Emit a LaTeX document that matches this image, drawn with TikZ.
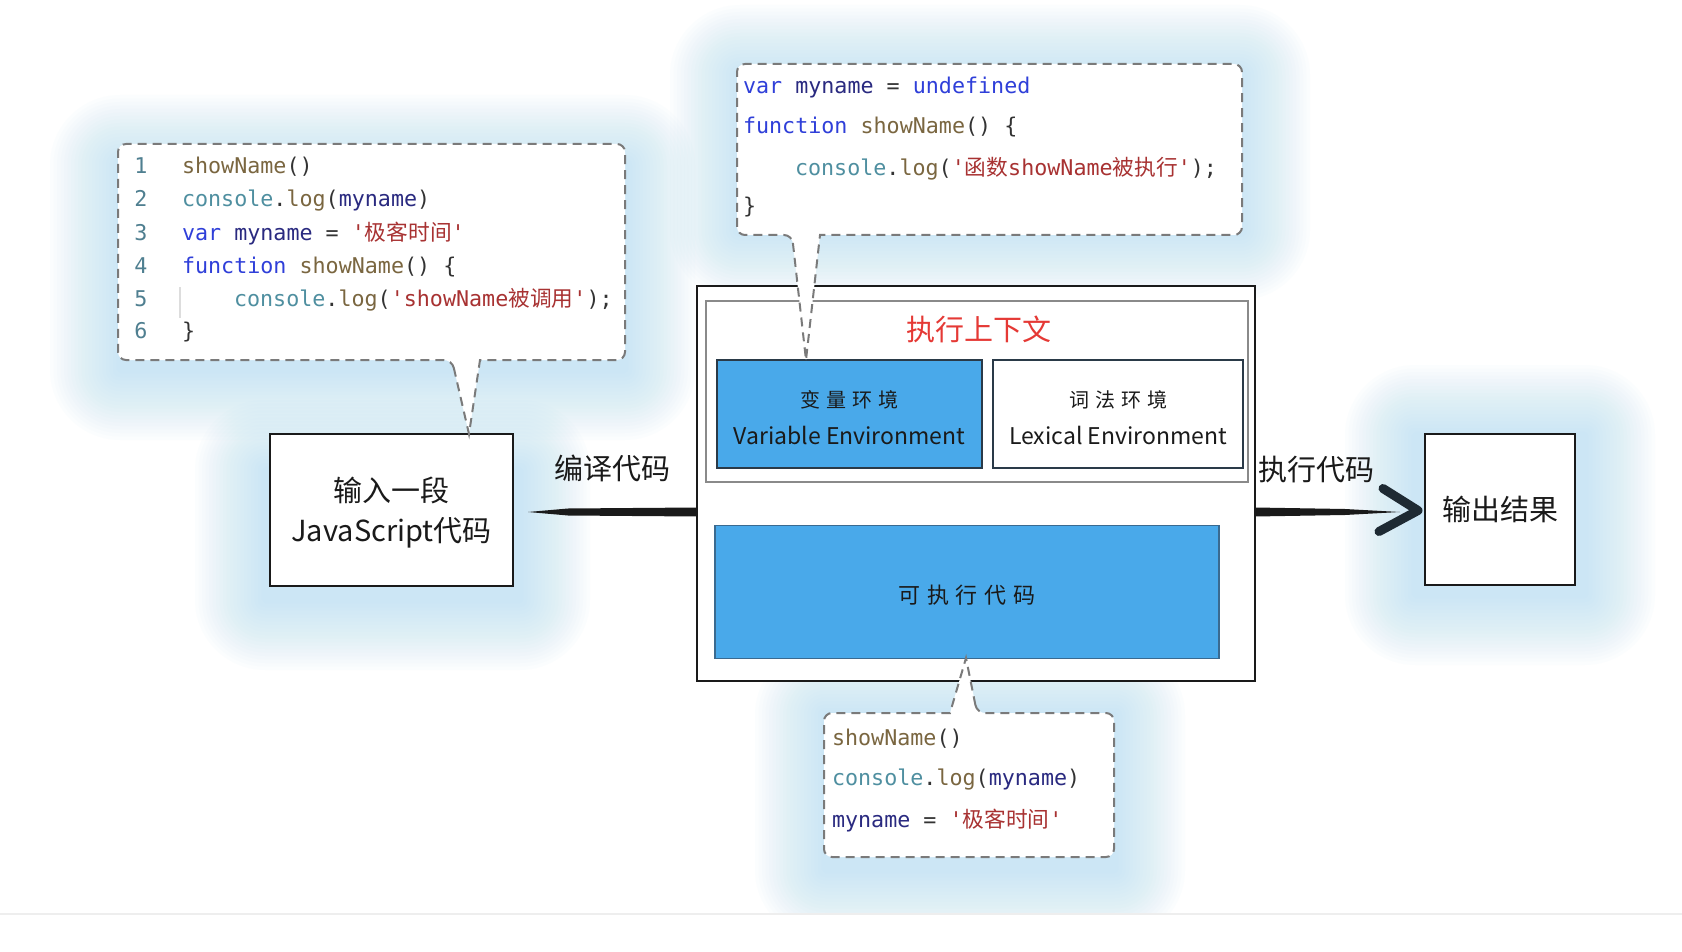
\documentclass[tikz,border=0pt]{standalone}
\usepackage{fontspec}
\setmainfont{Noto Sans CJK SC}
\setmonofont{DejaVu Sans Mono}
\newfontfamily\cjk{Noto Sans CJK SC}
\newfontfamily\cjkls{Noto Sans CJK SC}[LetterSpace=30]
\usetikzlibrary{calc}
\definecolor{kw}{HTML}{2F3FD9}
\definecolor{fnc}{HTML}{7A6640}
\definecolor{objc}{HTML}{4F8FA0}
\definecolor{varc}{HTML}{2A2A80}
\definecolor{strc}{HTML}{A83232}
\definecolor{punc}{HTML}{333333}
\definecolor{lnc}{HTML}{4F7F90}
\definecolor{glowc}{HTML}{A9D9F5}
\definecolor{boxblue}{HTML}{49A9EA}
\definecolor{titlered}{HTML}{E53935}
\definecolor{inkc}{HTML}{1A1A1A}
\definecolor{chev}{HTML}{1E2A33}
\definecolor{bubgray}{HTML}{7A7A7A}
\definecolor{ctxgray}{HTML}{8A8A8A}
\definecolor{envborder}{HTML}{2A3A48}
\definecolor{execborder}{HTML}{3A6A90}
\definecolor{guide}{HTML}{DDDDDD}
\definecolor{lightrule}{HTML}{EEEEEE}
\newcommand\KW[1]{\textcolor{kw}{#1}}
\newcommand\FN[1]{\textcolor{fnc}{#1}}
\newcommand\OB[1]{\textcolor{objc}{#1}}
\newcommand\VR[1]{\textcolor{varc}{#1}}
\newcommand\ST[1]{\textcolor{strc}{#1}}
\newcommand\PU[1]{\textcolor{punc}{#1}}
\newcommand\zh[1]{{\cjk #1}}
\newcommand\glowbox[4]{%
  \foreach \gi in {0,...,19}{%
    \pgfmathsetmacro\glowr{max(6,70-3.5*\gi)}%
    \fill[glowc, opacity=0.036, rounded corners=\glowr pt] ({#1+3.5*\gi},{#2+3.5*\gi}) rectangle ({#3-3.5*\gi},{#4-3.5*\gi});
  }%
}
\begin{document}
\begin{tikzpicture}[x=1pt,y=-1pt,
  every node/.style={inner sep=0pt, outer sep=0pt},
  blk/.style={draw=inkc, line width=2.5pt, fill=white},
  lbl/.style={font=\cjk\fontsize{29}{36}\selectfont, text=inkc, align=center},
  envzh/.style={font=\cjkls\fontsize{20}{26}\selectfont, text=inkc},
  enven/.style={font=\cjk\fontsize{23}{28}\selectfont, text=inkc},
  code/.style={anchor=mid west, font=\ttfamily\fontsize{21.7}{26}\selectfont},
  lno/.style={anchor=mid, text=lnc, font=\ttfamily\fontsize{21.7}{26}\selectfont},
  bubble/.style={draw=bubgray, line width=2pt, dash pattern=on 9pt off 6pt, fill=white},
]
\useasboundingbox (0,0) rectangle (1682,952);
\fill[white] (0,0) rectangle (1682,952);

% soft blue glows
\begin{scope}
  \clip (0,0) rectangle (1682,914);
  \glowbox{50}{95}{695}{440}
  \glowbox{195}{400}{590}{670}
  \glowbox{670}{5}{1310}{300}
  \glowbox{1345}{365}{1655}{665}
  \glowbox{755}{645}{1185}{940}
\end{scope}
\draw[lightrule, line width=1.5pt] (0,914) -- (1682,914);

% main execution box
\node[blk, minimum width=558pt, minimum height=395pt] (main) at (976,483.5) {};
\node[draw=ctxgray, line width=2pt, fill=white, minimum width=542pt, minimum height=181pt] (ctx) at (977,391.5) {};
\node[font=\cjk\fontsize{29}{36}\selectfont, text=titlered] (title) at ($(ctx.center)+(2,-62.5)$) {执行上下文};
\node[draw=envborder, line width=2pt, fill=boxblue, minimum width=265pt, minimum height=108pt] (varenv) at (849.5,414) {};
\node[envzh] (varzh) at ($(varenv.center)+(0,-14)$) {变量环境};
\node[enven] (varen) at ($(varenv.center)+(0,21)$) {Variable Environment};
\node[draw=envborder, line width=2pt, fill=white, minimum width=250pt, minimum height=108pt] (lexenv) at (1118,414) {};
\node[envzh] (lexzh) at ($(lexenv.center)+(0,-14)$) {词法环境};
\node[enven] (lexen) at ($(lexenv.center)+(0,21)$) {Lexical Environment};
\node[draw=execborder, line width=1.5pt, fill=boxblue, minimum width=504pt, minimum height=133pt] (exec) at (967,592) {};
\node[font=\cjkls\fontsize{22}{28}\selectfont, text=inkc] (exectxt) at ($(exec.center)+(0,3)$) {可执行代码};

% input and output boxes
\node[blk, minimum width=243pt, minimum height=152pt] (inbox) at (391.5,510) {};
\node[lbl] (in1) at ($(inbox.center)+(0,-20)$) {输入一段};
\node[lbl] (in2) at ($(inbox.center)+(0,23)$) {JavaScript代码};
\node[blk, minimum width=150pt, minimum height=151pt] (outbox) at (1500,509.5) {};
\node[lbl] (outtxt) at (outbox.center) {输出结果};

% compile arrow
\path (inbox.east) ++(15,2) coordinate (cA);
\path (main.west |- cA) coordinate (cB);
\fill[inkc] (cA) -- ($(cA)+(40,-3.5)$) -- ($(cB)+(0,-4.5)$) -- ($(cB)+(0,4.5)$) -- ($(cA)+(40,3.5)$) -- cycle;
\node[lbl] (compile) at ($(cA)!0.5!(cB)+(0,-44)$) {编译代码};

% execute arrow
\path (main.east |- cA) coordinate (cC);
\path (outbox.west) ++(-7,1) coordinate (tip);
\path (tip) ++(-18,1.5) coordinate (cD);
\fill[inkc] ($(cC)+(0,-4.5)$) -- ($(cC)+(90,-3)$) -- (cD) -- ($(cC)+(90,3)$) -- ($(cC)+(0,4.5)$) -- cycle;
\draw[chev, line width=9pt, line cap=round, line join=round] ($(tip)+(-35,-22)$) -- (tip) -- ($(tip)+(-39,21)$);
\node[lbl, anchor=west] (execlbl) at ($(cC)+(3,-42)$) {执行代码};

% left code bubble
\draw[bubble] (452,360) -- (469,434) -- (480,360) [rounded corners=8pt] -- (625,360) -- (625,144) -- (118,144) -- (118,360) -- cycle;
\draw[guide, line width=1.2pt] (180,287) -- (180,318);
\node[lno] (l1n) at (141,171) {1};
\node[lno] (l2n) at (141,204) {2};
\node[lno] (l3n) at (141,238) {3};
\node[lno] (l4n) at (141,271) {4};
\node[lno] (l5n) at (141,304) {5};
\node[lno] (l6n) at (141,336) {6};
\node[code] (l1) at (182,171) {\FN{showName}\PU{()}};
\node[code] (l2) at (182,204) {\OB{console}\PU{.}\FN{log}\PU{(}\VR{myname}\PU{)}};
\node[code] (l3) at (182,238) {\KW{var} \VR{myname} \PU{=} \ST{'\zh{极客时间}'}};
\node[code] (l4) at (182,271) {\KW{function} \FN{showName}\PU{() \{}};
\node[code] (l5) at (234,304) {\OB{console}\PU{.}\FN{log}\PU{(}\ST{'showName\zh{被调用}'}\PU{);}};
\node[code] (l6) at (182,336) {\PU{\}}};

% top code bubble
\draw[bubble] (792,235) -- (806,360) -- (820,235) [rounded corners=8pt] -- (1242,235) -- (1242,64) -- (737,64) -- (737,235) -- cycle;
\node[code] (t1) at (743,91) {\KW{var} \VR{myname} \PU{=} \KW{undefined}};
\node[code] (t2) at (743,131) {\KW{function} \FN{showName}\PU{() \{}};
\node[code] (t3) at (795,173) {\OB{console}\PU{.}\FN{log}\PU{(}\ST{'\zh{函数}showName\zh{被执行}'}\PU{);}};
\node[code] (t4) at (743,211) {\PU{\}}};

% bottom code bubble
\draw[bubble] (977,713) -- (966,658) -- (950,713) [rounded corners=8pt] -- (824,713) -- (824,857) -- (1114,857) -- (1114,713) -- cycle;
\node[code] (b1) at (832,743) {\FN{showName}\PU{()}};
\node[code] (b2) at (832,783) {\OB{console}\PU{.}\FN{log}\PU{(}\VR{myname}\PU{)}};
\node[code] (b3) at (832,825) {\VR{myname} \PU{=} \ST{'\zh{极客时间}'}};
\end{tikzpicture}
\end{document}
